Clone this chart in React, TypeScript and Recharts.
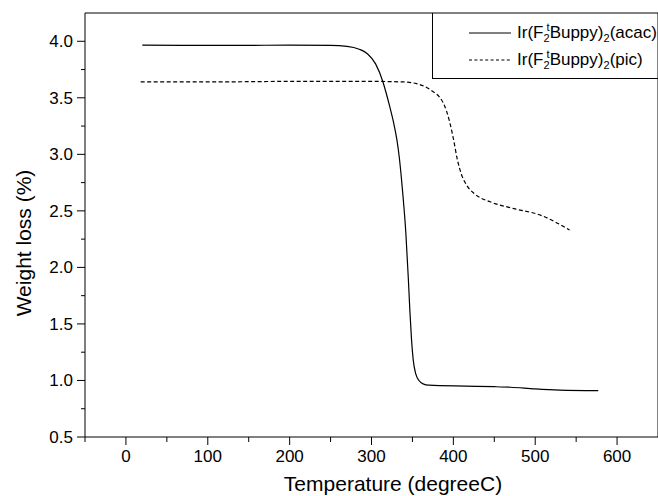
import React from 'react';
import { LineChart, Line, XAxis, YAxis, ReferenceLine, Legend } from 'recharts';

// Ir(F2tBuppy)2(acac) – solid
const acacTemp = [20, 100, 200, 250, 270, 285, 295, 305, 314, 318, 322, 327, 331, 334, 336, 338, 342, 345, 347, 349, 351, 354, 358, 363, 370, 415, 450, 470, 500, 530, 577];
const acacLoss = [3.965, 3.963, 3.965, 3.963, 3.955, 3.93, 3.89, 3.8, 3.64, 3.54, 3.43, 3.28, 3.13, 2.97, 2.83, 2.67, 2.3, 1.9, 1.6, 1.35, 1.18, 1.06, 1.0, 0.97, 0.958, 0.95, 0.945, 0.94, 0.925, 0.915, 0.91];

// Ir(F2tBuppy)2(pic) – dashed
const picTemp = [18, 100, 200, 300, 340, 355, 372, 388, 395, 400, 405, 410, 416, 426, 445, 474, 507, 525, 542];
const picLoss = [3.64, 3.64, 3.645, 3.645, 3.64, 3.625, 3.57, 3.45, 3.3, 3.14, 2.95, 2.82, 2.73, 2.65, 2.58, 2.52, 2.46, 2.4, 2.33];

const xTicks = [-50, 0, 50, 100, 150, 200, 250, 300, 350, 400, 450, 500, 550, 600];
const yTicks = [0.5, 0.75, 1, 1.25, 1.5, 1.75, 2, 2.25, 2.5, 2.75, 3, 3.25, 3.5, 3.75, 4];

const acacData = acacTemp.map((t, i) => ({ t, v: acacLoss[i] }));
const picData = picTemp.map((t, i) => ({ t, v: picLoss[i] }));

const FONT = '"Liberation Sans", Arial, sans-serif';

const XTick = (props: any) => {
  const { x, y, payload } = props;
  const major = payload.value % 100 === 0;
  return (
    <g>
      <line x1={x} y1={y} x2={x} y2={y + (major ? 8 : 5)} stroke="#000" />
      {major && (
        <text x={x} y={y + 25} textAnchor="middle" fontSize={17} fontFamily={FONT} fill="#000">
          {payload.value}
        </text>
      )}
    </g>
  );
};

const YTick = (props: any) => {
  const { x, y, payload } = props;
  const v = payload.value;
  const major = Math.abs(v * 2 - Math.round(v * 2)) < 1e-6;
  return (
    <g>
      <line x1={x - (major ? 8 : 4)} y1={y} x2={x} y2={y} stroke="#000" />
      {major && (
        <text x={x - 12} y={y + 6} textAnchor="end" fontSize={17} fontFamily={FONT} fill="#000">
          {v.toFixed(1)}
        </text>
      )}
    </g>
  );
};

const YTitle = (props: any) => {
  const { viewBox } = props;
  const cy = viewBox.y + viewBox.height / 2 + 18;
  return (
    <text x={23} y={cy} transform={`rotate(-90 23 ${cy})`} textAnchor="middle" dominantBaseline="central" fontSize={21} fontFamily={FONT} fill="#000">
      Weight loss (%)
    </text>
  );
};

const XTitle = () => (
  <text x={393} y={491} textAnchor="middle" fontSize={21} fontFamily={FONT} fill="#000">
    Temperature (degreeC)
  </text>
);

const Name = ({ tail }: { tail: string }) => (
  <span>
    Ir(F<sub style={{ fontSize: 11, verticalAlign: -4 }}>2</sub>
    <sup style={{ fontSize: 11, verticalAlign: 7, marginLeft: -3 }}>t</sup>Buppy)
    <sub style={{ fontSize: 11, verticalAlign: -4 }}>2</sub>({tail})
  </span>
);

const LegendBox = () => (
  <div
    style={{
      width: 240,
      height: 66,
      borderLeft: '1px solid #000',
      borderBottom: '1px solid #000',
      fontFamily: FONT,
      fontSize: 17,
      color: '#000',
      boxSizing: 'border-box',
      paddingTop: 6,
    }}
  >
    <div style={{ display: 'flex', alignItems: 'center', height: 27 }}>
      <svg width={42} height={4} style={{ marginLeft: 36, marginRight: 6 }}>
        <line x1={0} y1={2} x2={42} y2={2} stroke="#000" strokeWidth={1.2} />
      </svg>
      <Name tail="acac" />
    </div>
    <div style={{ display: 'flex', alignItems: 'center', height: 27 }}>
      <svg width={42} height={4} style={{ marginLeft: 36, marginRight: 6 }}>
        <line x1={0} y1={2} x2={42} y2={2} stroke="#000" strokeWidth={1.2} strokeDasharray="3 2.4" />
      </svg>
      <Name tail="pic" />
    </div>
  </div>
);

export default function App() {
  return (
    <div style={{ position: 'absolute', left: 0, top: 0, width: 658, height: 496, overflow: 'hidden', background: '#fff' }}>
      <LineChart width={662} height={496} margin={{ top: 13, right: 4, bottom: 0, left: 0 }}>
        <XAxis
          type="number"
          dataKey="t"
          domain={[-50, 650]}
          ticks={xTicks}
          interval={0}
          tickSize={0}
          tickMargin={0}
          tick={<XTick />}
          height={59}
          axisLine={{ stroke: '#000' }}
          allowDuplicatedCategory={false}
          label={<XTitle />}
        />
        <YAxis
          type="number"
          domain={[0.5, 4.25]}
          ticks={yTicks}
          interval={0}
          tickSize={0}
          tickMargin={0}
          tick={<YTick />}
          width={85}
          axisLine={{ stroke: '#000' }}
          label={<YTitle />}
        />
        <ReferenceLine y={4.25} stroke="#000" />
        <ReferenceLine x={650} stroke="#000" />
        <Line data={acacData} dataKey="v" type="monotone" stroke="#000" strokeWidth={1.2} dot={false} isAnimationActive={false} />
        <Line data={picData} dataKey="v" type="monotone" stroke="#000" strokeWidth={1.2} strokeDasharray="4 2.5" dot={false} isAnimationActive={false} />
        <Legend
          layout="vertical"
          align="center"
          verticalAlign="middle"
          wrapperStyle={{ left: 432, top: 13, width: 240 }}
          content={() => <LegendBox />}
        />
      </LineChart>
    </div>
  );
}
